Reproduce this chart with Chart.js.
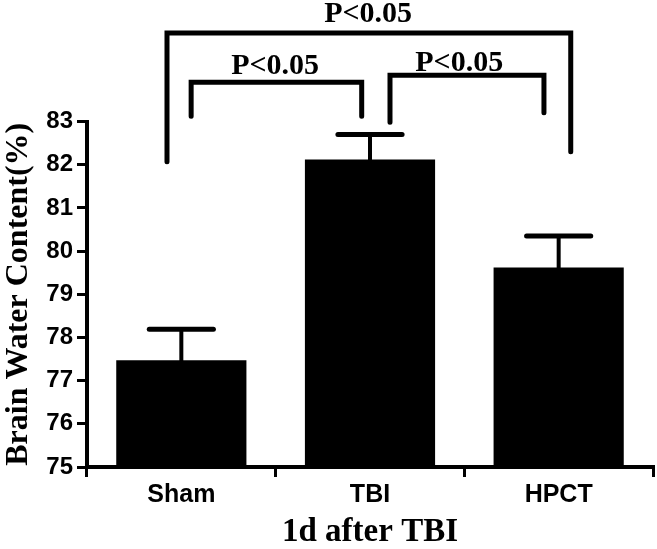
<!DOCTYPE html>
<html>
<head>
<meta charset="utf-8">
<script src="https://cdn.jsdelivr.net/npm/chart.js@4"></script>
<style>
  html, body { margin: 0; padding: 0; background: #fff; }
  canvas { display: block; }
</style>
</head>
<body>
<canvas id="myChart" width="657" height="549"></canvas>
<script>
// data
const groups = ["Sham", "TBI", "HPCT"];
const means = [77.47, 82.12, 79.62];
const errUp = [0.72, 0.58, 0.73];
const yTicks = [75, 76, 77, 78, 79, 80, 81, 82, 83];

// significance brackets: [x left, x right, y top, y left leg end, y right leg end] (category / value units)
const brackets = [
  [-0.076, 2.064, 85.05, 82.07, 82.30],
  [0.052, 0.956, 83.91, 83.12, 83.12],
  [1.106, 1.922, 84.07, 82.98, 83.20],
];
// label text: [x centre, y baseline]
const pLabels = [
  ["P<0.05", 0.99, 85.31],
  ["P<0.05", 0.497, 84.10],
  ["P<0.05", 1.473, 84.16],
];

const extras = {
  id: "extras",
  afterDatasetsDraw(chart) {
    const { ctx } = chart;
    const x = chart.scales.x;
    const y = chart.scales.y;
    ctx.save();
    ctx.strokeStyle = "#000";
    ctx.lineCap = "round";

    // error bars (upper half only, the lower is hidden in the bar)
    means.forEach((m, i) => {
      const cx = x.getPixelForValue(i);
      const top = y.getPixelForValue(m + errUp[i]);
      ctx.lineWidth = 4;
      ctx.beginPath();
      ctx.moveTo(cx, y.getPixelForValue(m));
      ctx.lineTo(cx, top);
      ctx.stroke();
      ctx.lineWidth = 5;
      ctx.beginPath();
      ctx.moveTo(x.getPixelForValue(i - 0.17), top);
      ctx.lineTo(x.getPixelForValue(i + 0.17), top);
      ctx.stroke();
    });

    // brackets
    ctx.lineWidth = 5;
    ctx.lineJoin = "miter";
    brackets.forEach(b => {
      ctx.beginPath();
      ctx.moveTo(x.getPixelForValue(b[0]), y.getPixelForValue(b[3]));
      ctx.lineTo(x.getPixelForValue(b[0]), y.getPixelForValue(b[2]));
      ctx.lineTo(x.getPixelForValue(b[1]), y.getPixelForValue(b[2]));
      ctx.lineTo(x.getPixelForValue(b[1]), y.getPixelForValue(b[4]));
      ctx.stroke();
    });

    ctx.fillStyle = "#000";
    ctx.font = "bold 30px 'Liberation Serif', 'Times New Roman', serif";
    ctx.textAlign = "center";
    ctx.textBaseline = "alphabetic";
    pLabels.forEach(p => {
      ctx.fillText(p[0], x.getPixelForValue(p[1]), y.getPixelForValue(p[2]));
    });
    ctx.restore();
  }
};

const ctx1 = document.getElementById("myChart");

const barChart = new Chart(ctx1, {
  type: "bar",
  data: {
    labels: groups,
    datasets: [
      {
        label: "Brain Water Content(%)",
        data: means,
        base: 75,
        backgroundColor: "#000",
        borderWidth: 0,
        barPercentage: 0.69,
        categoryPercentage: 1,
      },
    ],
  },
  options: {
    responsive: false,
    animation: false,
    layout: { padding: { top: 121.5, right: 4, left: 0, bottom: 0 } },
    plugins: {
      legend: { display: false },
      tooltip: { enabled: false },
    },
    scales: {
      x: {
        afterFit: (s) => { s.height = 82; },
        grid: { drawOnChartArea: false, drawTicks: true, tickLength: 10, lineWidth: 3, color: "#000" },
        border: { display: true, color: "#000", width: 4 },
        ticks: {
          color: "#000",
          padding: 3,
          font: { family: "'Liberation Sans', Arial, sans-serif", size: 25, weight: "bold" },
        },
        title: {
          display: true,
          text: "1d after TBI",
          color: "#000",
          padding: { top: 0, bottom: 0 },
          font: { family: "'Liberation Serif', 'Times New Roman', serif", size: 33, weight: "bold", lineHeight: 1 },
        },
      },
      y: {
        min: 75,
        max: 83,
        afterFit: (s) => { s.width = 87; },
        afterBuildTicks: (s) => { s.ticks = yTicks.map(v => ({ value: v })); },
        grid: { drawOnChartArea: false, drawTicks: true, tickLength: 10, lineWidth: 3, color: "#000" },
        border: { display: true, color: "#000", width: 4 },
        ticks: {
          color: "#000",
          padding: 4,
          font: { family: "'Liberation Sans', Arial, sans-serif", size: 24, weight: "bold" },
        },
        title: {
          display: true,
          text: "Brain Water Content(%)",
          color: "#000",
          padding: { top: 1, bottom: 0 },
          font: { family: "'Liberation Serif', 'Times New Roman', serif", size: 32, weight: "bold", lineHeight: 1.1 },
        },
      },
    },
  },
  plugins: [extras],
});
</script>
</body>
</html>
